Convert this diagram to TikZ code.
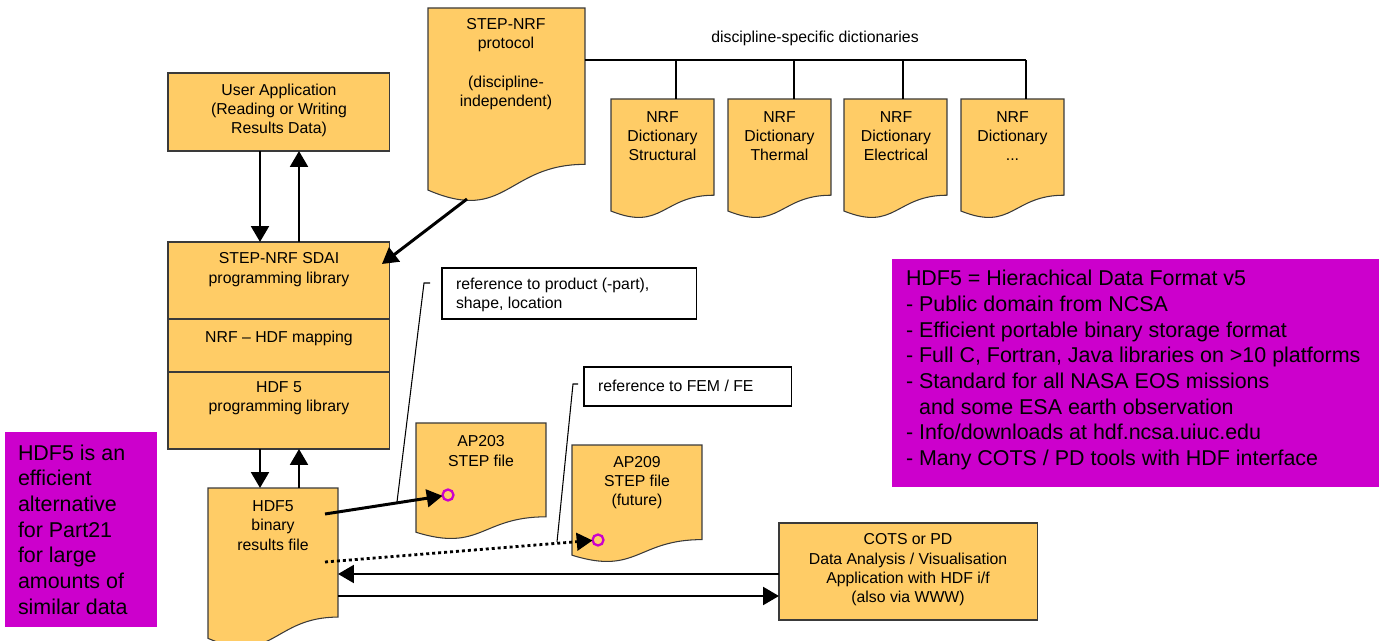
\documentclass[tikz,border=0pt]{standalone}
\usepackage{fontspec}
\setmainfont{Liberation Sans}
\usetikzlibrary{arrows.meta,calc}
\definecolor{docyellow}{HTML}{FFCC66}
\definecolor{notemag}{HTML}{CC00CC}
\definecolor{edge}{HTML}{3A3A3A}
% flowchart "document" outline: flat top, wavy bottom
\newcommand\docoutline[1]{%
  \filldraw[docfill] (#1.north west) -- (#1.north east)
    -- ($(#1.north east)!0.802!(#1.south east)$)
    .. controls ($(#1.north)!0.802!(#1.south)$) and ($(#1.north)!1.107!(#1.south)$)
    .. ($(#1.north west)!0.934!(#1.south west)$) -- cycle;}
\tikzset{
  every node/.style={inner sep=0pt, outer sep=0pt},
  box/.style={draw=edge, line width=0.6pt, fill=docyellow, anchor=north west},
  docfill/.style={draw=edge, line width=0.6pt, fill=docyellow},
  docframe/.style={anchor=north west},
  lbl/.style={align=center, font=\fontsize{9}{11}\selectfont},
  lbll/.style={align=left, anchor=west, font=\fontsize{9}{10.5}\selectfont},
  note/.style={fill=notemag, anchor=north west},
  notetext/.style={align=left, anchor=west, font=\fontsize{12.2}{14.6}\selectfont},
  refbox/.style={draw=black, line width=0.6pt, fill=white, anchor=north west},
  arr/.style={line width=1.7pt, -{Triangle[width=10pt,length=9pt]}},
  dotarr/.style={line width=1.6pt, dash pattern=on 1.7pt off 1.7pt, -{Triangle[width=10pt,length=9pt]}},
  bus/.style={line width=1.6pt},
  callout/.style={line width=0.6pt},
  target/.style={circle, draw=notemag, line width=1.3pt, minimum size=0.22cm},
}
\begin{document}
\begin{tikzpicture}[x=0.02cm, y=-0.02cm]
\useasboundingbox (0,0) rectangle (1385,641);

% user application and the SDAI / mapping / HDF library stack
\node[box, minimum width=4.44cm, minimum height=1.56cm] (ua) at (168,73) {};
\node[lbl] (uat) at (279,110.5) {User Application\\(Reading or Writing\\Results Data)};
\node[box, minimum width=4.44cm, minimum height=1.54cm] (sdai1) at (168,242) {};
\node[lbl] (sdai1t) at (279,269.5) {STEP-NRF SDAI\\programming library};
\node[box, minimum width=4.44cm, minimum height=1.06cm] (sdai2) at (168,319) {};
\node[lbl] (sdai2t) at (279,338) {NRF -- HDF mapping};
\node[box, minimum width=4.44cm, minimum height=1.54cm] (sdai3) at (168,372) {};
\node[lbl] (sdai3t) at (279,398.5) {HDF 5\\programming library};

% STEP-NRF protocol document
\node[docframe, minimum width=3.14cm, minimum height=3.9cm] (proto) at (428,8) {};
\docoutline{proto}
\node[lbl] (protot) at (506,64) {STEP-NRF\\protocol\\[11pt](discipline-\\independent)};

% discipline dictionaries
\node[lbl] (dictlbl) at (815,38) {discipline-specific dictionaries};
\node[docframe, minimum width=2.06cm, minimum height=2.4cm] (d1) at (611,99) {};
\node[docframe, minimum width=2.06cm, minimum height=2.4cm] (d2) at (728,99) {};
\node[docframe, minimum width=2.06cm, minimum height=2.4cm] (d3) at (844,99) {};
\node[docframe, minimum width=2.06cm, minimum height=2.4cm] (d4) at (961,99) {};
\docoutline{d1}\docoutline{d2}\docoutline{d3}\docoutline{d4}
\node[lbl] (d1t) at (662.5,136) {NRF\\Dictionary\\Structural};
\node[lbl] (d2t) at (779.5,136) {NRF\\Dictionary\\Thermal};
\node[lbl] (d3t) at (896,136) {NRF\\Dictionary\\Electrical};
\node[lbl] (d4t) at (1012.5,136) {NRF\\Dictionary\\...};

% bus from the protocol to the dictionaries
\draw[bus] ($(proto.north east)+(0,52)$) -- ($(d4.north west)+(65,-39)$);
\draw[bus] ($(d1.north west)+(65,-39)$) -- ($(d1.north west)+(65,0)$);
\draw[bus] ($(d2.north west)+(66,-39)$) -- ($(d2.north west)+(66,0)$);
\draw[bus] ($(d3.north west)+(59,-39)$) -- ($(d3.north west)+(59,0)$);
\draw[bus] ($(d4.north west)+(65,-39)$) -- ($(d4.north west)+(65,0)$);

% HDF5 results file
\node[docframe, minimum width=2.6cm, minimum height=3.22cm] (hdf5) at (208,488) {};
\docoutline{hdf5}
\node[lbl] (hdf5t) at (273,525.5) {HDF5\\binary\\results file};

% STEP files
\node[docframe, minimum width=2.6cm, minimum height=2.34cm] (ap203) at (416,423) {};
\docoutline{ap203}
\node[lbl] (ap203t) at (481,451) {AP203\\STEP file};
\node[docframe, minimum width=2.6cm, minimum height=2.36cm] (ap209) at (572,445) {};
\docoutline{ap209}
\node[lbl] (ap209t) at (637,482.5) {AP209\\STEP file\\(future)};
\node[target] (t203) at (448,495) {};
\node[target] (t209) at (598,540) {};

% analysis application
\node[box, minimum width=5.18cm, minimum height=1.94cm] (cots) at (779,523) {};
\node[lbl] (cotst) at (908,570) {COTS or PD\\Data Analysis / Visualisation\\Application with HDF i/f\\(also via WWW)};

% reference notes
\node[refbox, minimum width=5.1cm, minimum height=1.02cm] (ref1) at (442,268) {};
\node[lbll] (ref1t) at (456,295) {reference to product (-part),\\shape, location};
\node[refbox, minimum width=4.16cm, minimum height=0.78cm] (ref2) at (584,367) {};
\node[lbll] (ref2t) at (598,386) {reference to FEM / FE};

% magenta notes
\node[note, minimum width=9.74cm, minimum height=4.56cm] (info) at (892,259) {};
\node[notetext] (infot) at (906,370) {HDF5 = Hierachical Data Format v5\\
- Public domain from NCSA\\
- Efficient portable binary storage format\\
- Full C, Fortran, Java libraries on >10 platforms\\
- Standard for all NASA EOS missions\\
\hphantom{- }and some ESA earth observation\\
- Info/downloads at hdf.ncsa.uiuc.edu\\
- Many COTS / PD tools with HDF interface};
\node[note, minimum width=3.04cm, minimum height=3.9cm] (why) at (5,432) {};
\node[notetext] (whyt) at (18,529.5) {HDF5 is an\\efficient\\alternative\\for Part21\\for large\\amounts of\\similar data};

% connectors
\draw[arr] ($(ua.south west)+(92,0)$) -- ($(sdai1.north west)+(92,0)$);
\draw[arr] ($(sdai1.north west)+(131,0)$) -- ($(ua.south west)+(131,0)$);
\draw[arr] ($(sdai3.south west)+(92,0)$) -- ($(hdf5.north west)+(52,0)$);
\draw[arr] ($(hdf5.north west)+(91,0)$) -- ($(sdai3.south west)+(131,0)$);
\coordinate (pfoot) at ($(proto.north west)+(39,191)$);
\draw[arr] (pfoot) -- ($(sdai1.north east)+(-8,22)$);

\coordinate (h1) at (325,514);
\coordinate (h2) at (325,562);
\draw[arr] (h1) -- (t203);
\draw[dotarr] (h2) -- (t209);
\draw[arr] ($(cots.north west)+(0,51)$) -- ($(hdf5.north east)+(0,86)$);
\draw[arr] ($(hdf5.north east)+(0,108)$) -- ($(cots.north west)+(0,73)$);

% callout leaders
\coordinate (c1a) at (430,283);
\coordinate (c1b) at (424,283);
\coordinate (c1c) at (397,502);
\draw[callout] (c1a) -- (c1b) -- (c1c);
\coordinate (c2a) at (578,384);
\coordinate (c2b) at (573,384);
\coordinate (c2c) at (557,542);
\draw[callout] (c2a) -- (c2b) -- (c2c);
\end{tikzpicture}
\end{document}
